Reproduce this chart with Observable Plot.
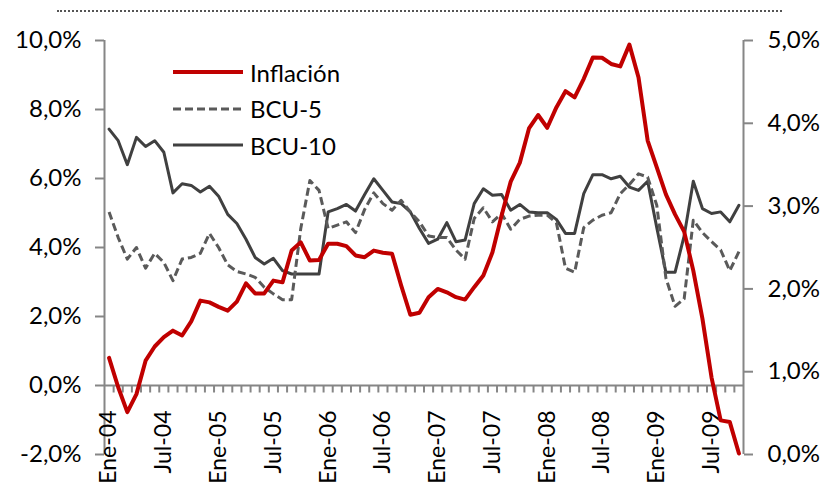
<!DOCTYPE html>
<html><head><meta charset="utf-8">
<script src="https://cdn.jsdelivr.net/npm/d3@7"></script>
<script src="https://cdn.jsdelivr.net/npm/@observablehq/plot@0.6"></script>
<style>
html,body{margin:0;padding:0;background:#fff;}
#wrap{position:relative;width:823px;height:486px;font-family:Lato,sans-serif;overflow:hidden;}
#topline{position:absolute;left:57px;top:10px;width:725px;border-top:2px dotted #555;}
#legend{position:absolute;left:173px;top:54px;}
.item{display:flex;align-items:center;height:36.5px;font-size:24px;color:#000;}
.item svg{margin-right:7px;}
</style></head><body>
<div id="wrap"><div id="topline"></div><div id="chart"></div><div id="legend"></div></div>
<script>
// Categories (monthly, Ene-04 .. Oct-09)
const monthNames = ["Ene","Feb","Mar","Abr","May","Jun","Jul","Ago","Sep","Oct","Nov","Dic"];
const years = ["04","05","06","07","08","09"];
const months = [];
years.forEach(y => monthNames.forEach(m => months.push(m + "-" + y)));
months.length = 70;
const tickLabels = ["Ene-04","Jul-04","Ene-05","Jul-05","Ene-06","Jul-06","Ene-07","Jul-07","Ene-08","Jul-08","Ene-09","Jul-09"];

// Series values (%)
const inflacion = [0.80,-0.05,-0.77,-0.25,0.72,1.13,1.40,1.59,1.45,1.86,
  2.46,2.41,2.28,2.17,2.43,2.96,2.67,2.67,3.04,2.99,
  3.91,4.15,3.62,3.64,4.11,4.11,4.04,3.77,3.72,3.91,
  3.85,3.82,2.90,2.05,2.11,2.56,2.80,2.70,2.56,2.49,
  2.85,3.19,3.86,4.93,5.91,6.46,7.45,7.84,7.47,8.06,
  8.53,8.35,8.89,9.51,9.50,9.32,9.25,9.88,8.93,7.10,
  6.32,5.54,4.96,4.46,3.33,1.94,0.23,-1.01,-1.06,-1.97];
const bcu5 = [2.93,2.62,2.36,2.50,2.25,2.43,2.32,2.10,2.36,2.38,
  2.43,2.67,2.50,2.29,2.21,2.18,2.14,2.02,1.94,1.87,
  1.87,2.73,3.31,3.19,2.73,2.77,2.81,2.68,2.96,3.16,
  3.03,2.95,3.07,2.93,2.81,2.64,2.62,2.62,2.47,2.36,
  2.85,2.98,2.81,2.91,2.72,2.84,2.88,2.89,2.89,2.80,
  2.25,2.20,2.74,2.83,2.89,2.92,3.15,3.26,3.39,3.35,
  3.01,2.13,1.79,1.88,2.83,2.68,2.57,2.47,2.22,2.45];
const bcu10 = [3.93,3.79,3.50,3.83,3.72,3.79,3.65,3.16,3.27,3.25,
  3.17,3.24,3.12,2.90,2.79,2.60,2.38,2.30,2.37,2.22,
  2.18,2.18,2.18,2.18,2.93,2.97,3.02,2.94,3.14,3.33,
  3.19,3.05,3.03,2.93,2.73,2.55,2.60,2.80,2.57,2.59,
  3.03,3.21,3.13,3.14,2.95,3.02,2.93,2.92,2.92,2.84,
  2.67,2.67,3.15,3.38,3.38,3.33,3.36,3.23,3.19,3.30,
  2.74,2.20,2.20,2.64,3.30,2.97,2.91,2.93,2.81,3.01];

const leftTicks = [-2,0,2,4,6,8,10];
const rightTicks = [0,1,2,3,4,5];
const leftDomain = [-2, 10];
const rightDomain = [0, 5];

// map secondary-axis values onto primary scale
const toLeft = r => leftDomain[0] + (r - rightDomain[0]) * (leftDomain[1]-leftDomain[0])/(rightDomain[1]-rightDomain[0]);
const fromLeft = v => rightDomain[0] + (v - leftDomain[0]) * (rightDomain[1]-rightDomain[0])/(leftDomain[1]-leftDomain[0]);
const pct = v => (Math.round(v*10)/10).toFixed(1).replace(".", ",") + "%";

const gray = "#868686";
const red = "#C00000";
const dark = "#404040";
const mid = "#5a5a5a";
const dash = "8,4";

const boundaries = months.slice(1).map((m, i) => i + 0.5);
const tickIdx = tickLabels.map(l => months.indexOf(l));
const tickSym = {draw(ctx){ ctx.moveTo(0,0); ctx.lineTo(0,7); }};

const chart = Plot.plot({
  width: 823, height: 486,
  marginLeft: 104, marginRight: 80, marginTop: 40, marginBottom: 32,
  style: {fontFamily: "Lato, sans-serif", fontSize: "24px", color: "#000", background: "transparent", overflow: "visible"},
  x: {domain: [-0.5, months.length - 0.5], axis: null},
  y: {domain: leftDomain, axis: null},
  marks: [
    Plot.ruleX([-0.5, months.length - 0.5], {stroke: gray, strokeWidth: 2}),
    Plot.ruleY([0], {stroke: gray, strokeWidth: 2}),
    Plot.dot(boundaries, {x: d => d, y: 0, symbol: tickSym, stroke: gray, strokeWidth: 2, fill: "none"}),
    Plot.axisY(leftTicks, {anchor: "left", tickSize: 9, tickPadding: 14, tickFormat: pct, stroke: gray, strokeWidth: 2, fill: "#000"}),
    Plot.axisY(rightTicks.map(toLeft), {anchor: "right", tickSize: 9, tickPadding: 15, tickFormat: v => pct(fromLeft(v)), stroke: gray, strokeWidth: 2, fill: "#000"}),
    Plot.text(tickIdx, {x: d => d, y: 0, text: i => months[i], rotate: -90, textAnchor: "end", lineAnchor: "middle", dy: 25, fontSize: 23, fill: "#000"}),
    Plot.line(bcu10, {x: (d, i) => i, y: d => toLeft(d), stroke: dark, strokeWidth: 3}),
    Plot.line(bcu5, {x: (d, i) => i, y: d => toLeft(d), stroke: mid, strokeWidth: 3, strokeDasharray: dash, strokeLinecap: "butt"}),
    Plot.line(inflacion, {x: (d, i) => i, y: d => d, stroke: red, strokeWidth: 4})
  ]
});
document.getElementById("chart").appendChild(chart);

const legendItems = [
  {name: "Inflación", color: red, width: 4, dash: null},
  {name: "BCU-5", color: mid, width: 3, dash: dash},
  {name: "BCU-10", color: dark, width: 3, dash: null}
];
const legend = document.getElementById("legend");
legendItems.forEach(it => {
  const div = document.createElement("div");
  div.className = "item";
  div.innerHTML = `<svg width="70" height="10"><line x1="0" x2="70" y1="5" y2="5" stroke="${it.color}" stroke-width="${it.width}" ${it.dash ? `stroke-dasharray="${it.dash}"` : ""}/></svg><span>${it.name}</span>`;
  legend.appendChild(div);
});
</script>
</body></html>
